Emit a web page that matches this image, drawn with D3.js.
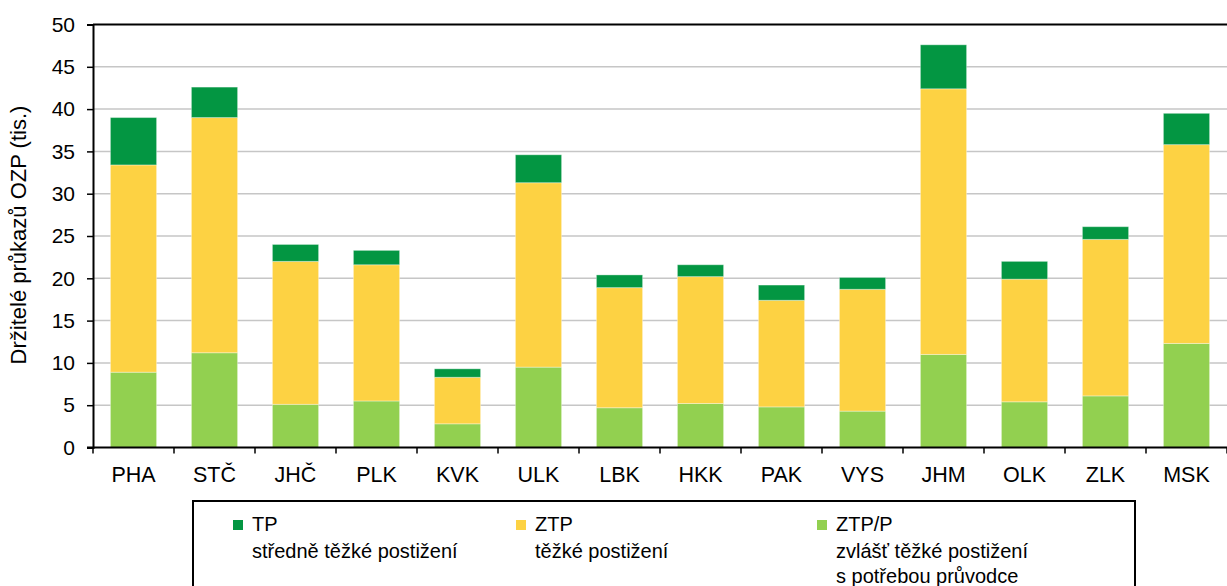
<!DOCTYPE html>
<html>
<head>
<meta charset="utf-8">
<script src="https://cdn.jsdelivr.net/npm/d3@7"></script>
<style>
  html, body { margin: 0; padding: 0; background: #fff; }
  svg { display: block; font-family: "Liberation Sans", Arial, sans-serif; }
</style>
</head>
<body>
<svg id="chart" width="1227" height="586"></svg>
<script>
// Regions (kraje)
const regions = ["PHA", "STČ", "JHČ", "PLK", "KVK", "ULK", "LBK", "HKK", "PAK", "VYS", "JHM", "OLK", "ZLK", "MSK"];

// Card holders in thousands, by card type
const ztpp = [8.9, 11.2, 5.1, 5.5, 2.8, 9.5, 4.7, 5.2, 4.8, 4.3, 11.0, 5.4, 6.1, 12.3];
const ztp  = [24.5, 27.8, 16.9, 16.1, 5.5, 21.8, 14.2, 15.0, 12.6, 14.4, 31.4, 14.5, 18.5, 23.5];
const tp   = [5.6, 3.6, 2.0, 1.7, 1.0, 3.3, 1.5, 1.4, 1.8, 1.4, 5.2, 2.1, 1.5, 3.7];

const yTicks = [0, 5, 10, 15, 20, 25, 30, 35, 40, 45, 50];

// Series in stacking order (bottom to top)
const seriesKeys = ["ztpp", "ztp", "tp"];
const seriesColors = { tp: "#039642", ztp: "#FDD243", ztpp: "#92D050" };

// Legend entries (left to right)
const legendItems = [
  { key: "tp",   title: "TP",    lines: ["středně těžké postižení"] },
  { key: "ztp",  title: "ZTP",   lines: ["těžké postižení"] },
  { key: "ztpp", title: "ZTP/P", lines: ["zvlášť těžké postižení", "s potřebou průvodce"] }
];

const rows = regions.map((r, i) => ({ region: r, ztpp: ztpp[i], ztp: ztp[i], tp: tp[i] }));

const svg = d3.select("#chart");
const margin = { left: 93, right: 0, top: 24.5, bottom: 138.5 };
const W = 1227, H = 586;
const plotBottom = H - margin.bottom;

const x = d3.scaleBand()
  .domain(regions)
  .range([margin.left, W - margin.right])
  .paddingInner(0.43)
  .paddingOuter(0.215);

const y = d3.scaleLinear().domain([0, 50]).range([plotBottom, margin.top]);

// Horizontal gridlines
svg.append("g")
  .selectAll("line")
  .data(yTicks.filter(t => t > 0 && t < 50))
  .join("line")
  .attr("x1", margin.left).attr("x2", W)
  .attr("y1", d => y(d)).attr("y2", d => y(d))
  .attr("stroke", "#c6c6c6").attr("stroke-width", 1.5);

// Top frame line
svg.append("line")
  .attr("x1", margin.left).attr("x2", W)
  .attr("y1", y(50)).attr("y2", y(50))
  .attr("stroke", "#000").attr("stroke-width", 2);

// Stacked bars
const stack = d3.stack().keys(seriesKeys)(rows);
svg.append("g")
  .selectAll("g")
  .data(stack)
  .join("g")
  .attr("fill", d => seriesColors[d.key])
  .selectAll("rect")
  .data(d => d)
  .join("rect")
  .attr("x", d => x(d.data.region))
  .attr("width", x.bandwidth())
  .attr("y", d => y(d[1]))
  .attr("height", d => y(d[0]) - y(d[1]))
  .attr("stroke", "rgba(255,255,255,0.35)")
  .attr("stroke-width", 1);

// Y axis
const yAxis = svg.append("g")
  .attr("transform", `translate(${margin.left},0)`)
  .call(d3.axisLeft(y).tickValues(yTicks).tickSize(6).tickPadding(12));
yAxis.select(".domain").attr("stroke", "#000").attr("stroke-width", 2);
yAxis.selectAll(".tick line").attr("stroke", "#000").attr("stroke-width", 1.5);
yAxis.selectAll(".tick text")
  .attr("font-size", 21).attr("fill", "#000")
  .attr("font-family", "Liberation Sans, Arial, sans-serif");

// X axis: ticks on band boundaries
const boundaries = regions.map(r => x(r) - x.step() * x.paddingInner() / 2);
boundaries.push(W);
svg.append("line")
  .attr("x1", margin.left - 6).attr("x2", W)
  .attr("y1", plotBottom).attr("y2", plotBottom)
  .attr("stroke", "#000").attr("stroke-width", 2);
svg.append("g")
  .selectAll("line")
  .data(boundaries)
  .join("line")
  .attr("x1", d => d).attr("x2", d => d)
  .attr("y1", plotBottom).attr("y2", plotBottom + 6)
  .attr("stroke", "#000").attr("stroke-width", 1.5);
svg.append("g")
  .selectAll("text")
  .data(regions)
  .join("text")
  .attr("x", d => x(d) + x.bandwidth() / 2)
  .attr("y", plotBottom + 34)
  .attr("text-anchor", "middle")
  .attr("font-size", 21.5)
  .attr("fill", "#000")
  .text(d => d);

// Y axis title
svg.append("text")
  .attr("transform", `translate(26,${(y(50) + y(0)) / 2 - 1}) rotate(-90)`)
  .attr("text-anchor", "middle")
  .attr("font-size", 22)
  .attr("fill", "#000")
  .text("Držitelé průkazů OZP (tis.)");

// Legend box
const legend = svg.append("g");
legend.append("rect")
  .attr("x", 193).attr("y", 501)
  .attr("width", 942).attr("height", 100)
  .attr("fill", "#fff").attr("stroke", "#000").attr("stroke-width", 2);

const legendX = [233, 516, 817];
legendItems.forEach((item, i) => {
  const g = legend.append("g").attr("transform", `translate(${legendX[i]},0)`);
  g.append("rect")
    .attr("x", 0).attr("y", 520).attr("width", 10).attr("height", 10)
    .attr("fill", seriesColors[item.key]);
  g.append("text")
    .attr("x", 19).attr("y", 531)
    .attr("font-size", 20).attr("fill", "#000")
    .text(item.title);
  item.lines.forEach((line, j) => {
    g.append("text")
      .attr("x", 19).attr("y", 558 + j * 25)
      .attr("font-size", 20).attr("fill", "#000")
      .text(line);
  });
});
</script>
</body>
</html>
